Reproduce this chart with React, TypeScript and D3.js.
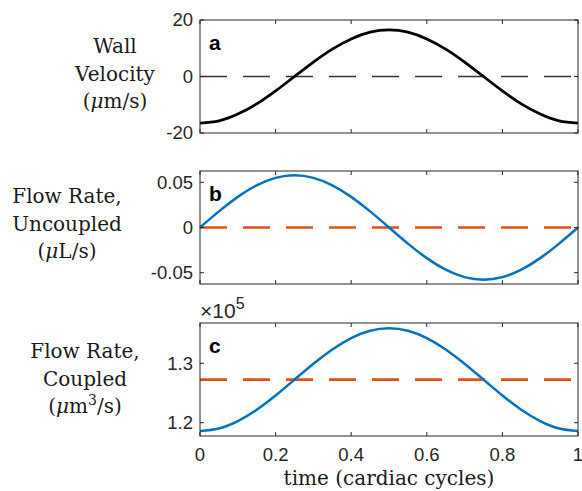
import React from "react";
import * as d3 from "d3";

// sampled off the figure, t in cardiac cycles
const time = [0, 0.05, 0.1, 0.15, 0.2, 0.25, 0.3, 0.35, 0.4, 0.45, 0.5, 0.55, 0.6, 0.65, 0.7, 0.75, 0.8, 0.85, 0.9, 0.95, 1];
const wallVelocity = [-16.5, -15.7, -13.3, -9.7, -5.1, 0, 5.1, 9.7, 13.3, 15.7, 16.5, 15.7, 13.3, 9.7, 5.1, 0, -5.1, -9.7, -13.3, -15.7, -16.5];
const flowUncoupled = [0, 0.0178, 0.0339, 0.0467, 0.0549, 0.0577, 0.0549, 0.0467, 0.0339, 0.0178, 0, -0.0178, -0.0339, -0.0467, -0.0549, -0.0577, -0.0549, -0.0467, -0.0339, -0.0178, 0];
const flowCoupled = [118600, 119020, 120250, 122170, 124580, 127250, 129920, 132330, 134250, 135480, 135900, 135480, 134250, 132330, 129920, 127250, 124580, 122170, 120250, 119020, 118600];
const wallVelocityRef = 0;
const flowUncoupledRef = 0;
const flowCoupledMean = 127250;

const xTicks = [0, 0.2, 0.4, 0.6, 0.8, 1];
const xTickLabels = ["0", "0.2", "0.4", "0.6", "0.8", "1"];
const ticksA = [-20, 0, 20];
const tickLabelsA = ["-20", "0", "20"];
const ticksB = [-0.05, 0, 0.05];
const tickLabelsB = ["-0.05", "0", "0.05"];
const ticksC = [120000, 130000];
const tickLabelsC = ["1.2", "1.3"];

const axisColor = "#262626";
const blue = "#0072BD";
const orange = "#D95319";
const serif = "DejaVu Serif";
const sans = "Liberation Sans";

const x = d3.scaleLinear().domain([0, 1]).range([200, 578]);

function Panel(props: any) {
  const { top, bottom, domain, ticks, tickLabels, letter, values, refValue, lineColor, lineWidth, refColor, refWidth, showX } = props;
  const y = d3.scaleLinear().domain(domain).range([bottom, top]);
  const pts = time.map((t, i) => [t, values[i]] as [number, number]);
  const line = d3
    .line<[number, number]>()
    .x((d) => x(d[0]))
    .y((d) => y(d[1]))
    .curve(d3.curveNatural);
  const tl = 4;
  return (
    <g>
      <line x1={x(0)} x2={x(1)} y1={y(refValue)} y2={y(refValue)} stroke={refColor} strokeWidth={refWidth} strokeDasharray="27,16" />
      <path d={line(pts) || ""} fill="none" stroke={lineColor} strokeWidth={lineWidth} />
      <rect x={x(0)} y={top} width={x(1) - x(0)} height={bottom - top} fill="none" stroke={axisColor} strokeWidth={1} />
      {xTicks.map((t) => (
        <g key={"xt" + t}>
          <line x1={x(t)} x2={x(t)} y1={bottom} y2={bottom - tl} stroke={axisColor} />
          <line x1={x(t)} x2={x(t)} y1={top} y2={top + tl} stroke={axisColor} />
        </g>
      ))}
      {ticks.map((v: number, i: number) => (
        <g key={"yt" + v}>
          <line x1={x(0)} x2={x(0) + tl} y1={y(v)} y2={y(v)} stroke={axisColor} />
          <line x1={x(1)} x2={x(1) - tl} y1={y(v)} y2={y(v)} stroke={axisColor} />
          <text x={193} y={y(v)} dy="0.35em" textAnchor="end" fontFamily={sans} fontSize={18.5} fill={axisColor}>
            {tickLabels[i]}
          </text>
        </g>
      ))}
      {showX &&
        xTicks.map((t, i) => (
          <text key={"xl" + t} x={x(t)} y={bottom + 25} textAnchor="middle" fontFamily={sans} fontSize={18.5} fill={axisColor}>
            {xTickLabels[i]}
          </text>
        ))}
      <text x={209} y={top + 30} fontFamily={sans} fontWeight="bold" fontSize={21} fill="#000">
        {letter}
      </text>
    </g>
  );
}

function YLabel({ cx, y0, lines }: { cx: number; y0: number; lines: React.ReactNode[] }) {
  return (
    <text textAnchor="middle" fontFamily={serif} fontSize={20} fill="#1a1a1a">
      {lines.map((l, i) => (
        <tspan key={i} x={cx} y={y0 + i * 27.5}>
          {l}
        </tspan>
      ))}
    </text>
  );
}

export default function App() {
  return (
    <svg width={582} height={491} style={{ position: "absolute", left: 0, top: 0, background: "#fff" }}>
      <Panel top={20} bottom={133} domain={[-20, 20]} ticks={ticksA} tickLabels={tickLabelsA} letter="a"
        values={wallVelocity} refValue={wallVelocityRef} lineColor="#000" lineWidth={2.8} refColor="#333" refWidth={1.3} />
      <Panel top={171} bottom={284} domain={[-0.0625, 0.0625]} ticks={ticksB} tickLabels={tickLabelsB} letter="b"
        values={flowUncoupled} refValue={flowUncoupledRef} lineColor={blue} lineWidth={2.5} refColor={orange} refWidth={2.6} />
      <Panel top={323} bottom={436} domain={[117760, 136780]} ticks={ticksC} tickLabels={tickLabelsC} letter="c"
        values={flowCoupled} refValue={flowCoupledMean} lineColor={blue} lineWidth={2.5} refColor={orange} refWidth={2.6} showX />

      <text x={200} y={318} fontFamily={sans} fontSize={21} fill={axisColor}>
        ×10<tspan dy={-9} fontSize={16}>5</tspan>
      </text>

      <YLabel cx={115} y0={53} lines={["Wall", "Velocity", <>(<tspan fontStyle="italic">μ</tspan>m/s)</>]} />
      <YLabel cx={67} y0={203} lines={["Flow Rate,", "Uncoupled", <>(<tspan fontStyle="italic">μ</tspan>L/s)</>]} />
      <YLabel cx={85} y0={358} lines={["Flow Rate,", "Coupled", <>(<tspan fontStyle="italic">μ</tspan>m<tspan dy={-8} fontSize={14}>3</tspan><tspan dy={8}>/s)</tspan></>]} />

      <text x={389} y={485} textAnchor="middle" fontFamily={serif} fontSize={20} fill="#1a1a1a">
        time (cardiac cycles)
      </text>
    </svg>
  );
}
